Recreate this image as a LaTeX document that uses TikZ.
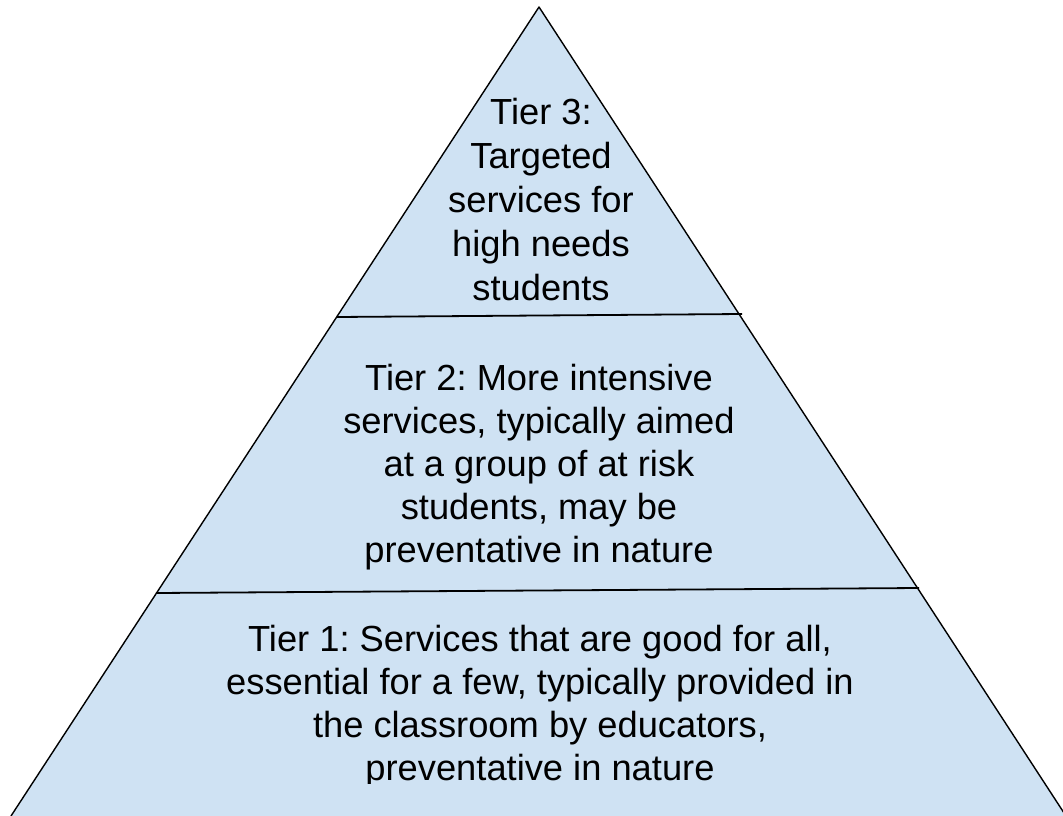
\documentclass[tikz,border=0pt]{standalone}
\usepackage{fontspec}
\setmainfont{Liberation Sans}
\frenchspacing
\definecolor{tierfill}{HTML}{CFE2F3}
\tikzset{
  tiertext/.style={align=center, font=\fontsize{36.3}{43}\selectfont\frenchspacing, inner sep=0pt, text=black},
  edgeline/.style={line width=1.4pt, line join=round},
  divider/.style={line width=1.8pt}
}
\begin{document}
\begin{tikzpicture}[x=1pt,y=-1pt]
\useasboundingbox (0,0) rectangle (1063,816);
\begin{scope}
\clip (0,0) rectangle (1063,816);
\coordinate (apex) at (539,7);
\coordinate (bl) at (11,816);
\coordinate (br) at (1066,816);
\fill[tierfill] (apex) -- (bl) -- (br) -- cycle;
\draw[edgeline] (bl) -- (apex) -- (br);
\end{scope}
\coordinate (d1l) at (337,317);
\coordinate (d1r) at (742,314);
\coordinate (d2l) at (156,593);
\coordinate (d2r) at (919,588);
\draw[divider] (d1l) -- (d1r);
\draw[divider] (d2l) -- (d2r);
\node[tiertext, font=\fontsize{36.3}{44}\selectfont\frenchspacing] (tier3) at (541,200) {Tier 3:\\Targeted\\services for\\high needs\\students};
\node[tiertext] (tier2) at (539,467) {Tier 2: More intensive\\services, typically aimed\\at a group of at risk\\students, may be\\preventative in nature};
\begin{scope}
\clip (0,0) rectangle (1063,783);
\node[tiertext] (tier1) at (540,707) {Tier 1: Services that are good for all,\\essential for a few, typically provided in\\the classroom by educators,\\preventative in nature};
\end{scope}
\end{tikzpicture}
\end{document}
